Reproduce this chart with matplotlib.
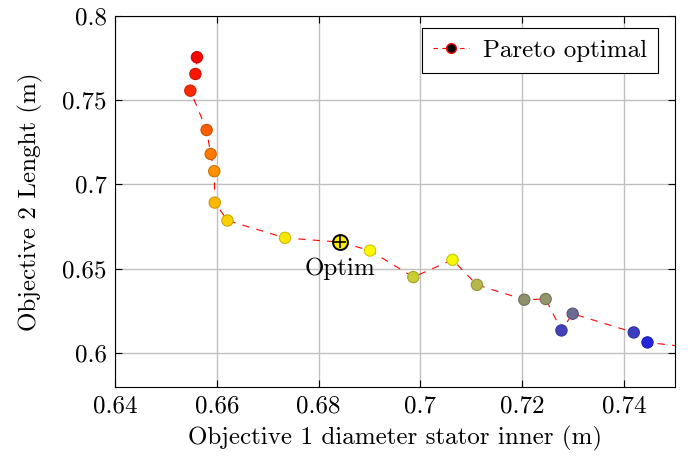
import numpy as np
import matplotlib.pyplot as plt
from matplotlib.colors import LinearSegmentedColormap, to_rgb

plt.rcParams['font.family'] = ['cmr10', 'DejaVu Serif']
plt.rcParams['mathtext.fontset'] = 'cm'
plt.rcParams['axes.formatter.use_mathtext'] = True

# pareto front (objective 1 = diameter, objective 2 = length)
obj1 = [0.6561, 0.6558, 0.6548, 0.6580, 0.6588, 0.6595, 0.6596, 0.6621, 0.6734,
        0.6842, 0.6901, 0.6986, 0.7063, 0.7111, 0.7204, 0.7246, 0.7277, 0.7299,
        0.7419, 0.7446, 0.7690]
obj2 = [0.7753, 0.7654, 0.7555, 0.7322, 0.7180, 0.7078, 0.6892, 0.6786, 0.6683,
        0.6658, 0.6608, 0.6451, 0.6553, 0.6405, 0.6317, 0.6321, 0.6135, 0.6234,
        0.6123, 0.6064, 0.5980]
optim_x = 0.6842
optim_y = 0.6658

xticks = [0.64, 0.66, 0.68, 0.70, 0.72, 0.74]
xticklabels = ['0.64', '0.66', '0.68', '0.7', '0.72', '0.74']
yticks = [0.60, 0.65, 0.70, 0.75, 0.80]
yticklabels = ['0.6', '0.65', '0.7', '0.75', '0.8']

# pgfplots "hot" colormap
hot = LinearSegmentedColormap.from_list('hot_pgf', ['blue', 'yellow', (1, 0.5, 0), 'red'])
vmin, vmax = min(obj2), max(obj2)

def meta_color(v):
    return hot((v - vmin) / (vmax - vmin))

fs = 18

fig = plt.figure(figsize=(6.96, 4.57), dpi=100)
ax = fig.add_axes([0.1652, 0.1532, 0.8046, 0.8128])

ax.plot(obj1, obj2, color='red', lw=0.8, ls=(0, (6.5, 6.5)), zorder=2)

cols = [meta_color(v) for v in obj2]
edges = [tuple(0.8 * np.array(to_rgb(c))) for c in cols]
ax.scatter(obj1, obj2, s=66, c=cols, edgecolors=edges, linewidths=0.8, zorder=3)

# optimum marker
ax.scatter([optim_x], [optim_y], s=115, c=[meta_color(optim_y)],
           edgecolors='black', linewidths=1.4, zorder=4)
ax.scatter([optim_x], [optim_y], s=75, marker='+', c='black', linewidths=1.2, zorder=5)
ax.text(optim_x, optim_y - 0.0090, 'Optim', ha='center', va='top', fontsize=fs)

# legend proxy
ax.plot([], [], color='red', lw=0.8, ls=(0, (4, 4)), marker='o', markersize=7,
        markerfacecolor='black', markeredgecolor='red', label='Pareto optimal')
leg = ax.legend(loc='upper right', fontsize=fs, fancybox=False, framealpha=1,
                edgecolor='black', handlelength=1.45, borderpad=0.45, handletextpad=0.55,
                borderaxespad=0, bbox_to_anchor=(0.970, 0.966))
leg.get_frame().set_linewidth(0.8)

ax.set_xlim(0.64, 0.75)
ax.set_ylim(0.58, 0.80)
ax.set_xticks(xticks)
ax.set_xticklabels(xticklabels)
ax.set_yticks(yticks)
ax.set_yticklabels(yticklabels)
ax.tick_params(direction='in', top=True, right=True, labelsize=fs, length=5, width=0.8, pad=6)
ax.grid(True, color='#c0c0c0', lw=1.0)
ax.set_axisbelow(True)
for s in ax.spines.values():
    s.set_linewidth(0.8)

ax.set_xlabel('Objective 1 diameter stator inner (m)', fontsize=fs, labelpad=6)
ax.set_ylabel('Objective 2 Lenght (m)', fontsize=fs, labelpad=14)

fig.savefig('out.png', dpi=100)
